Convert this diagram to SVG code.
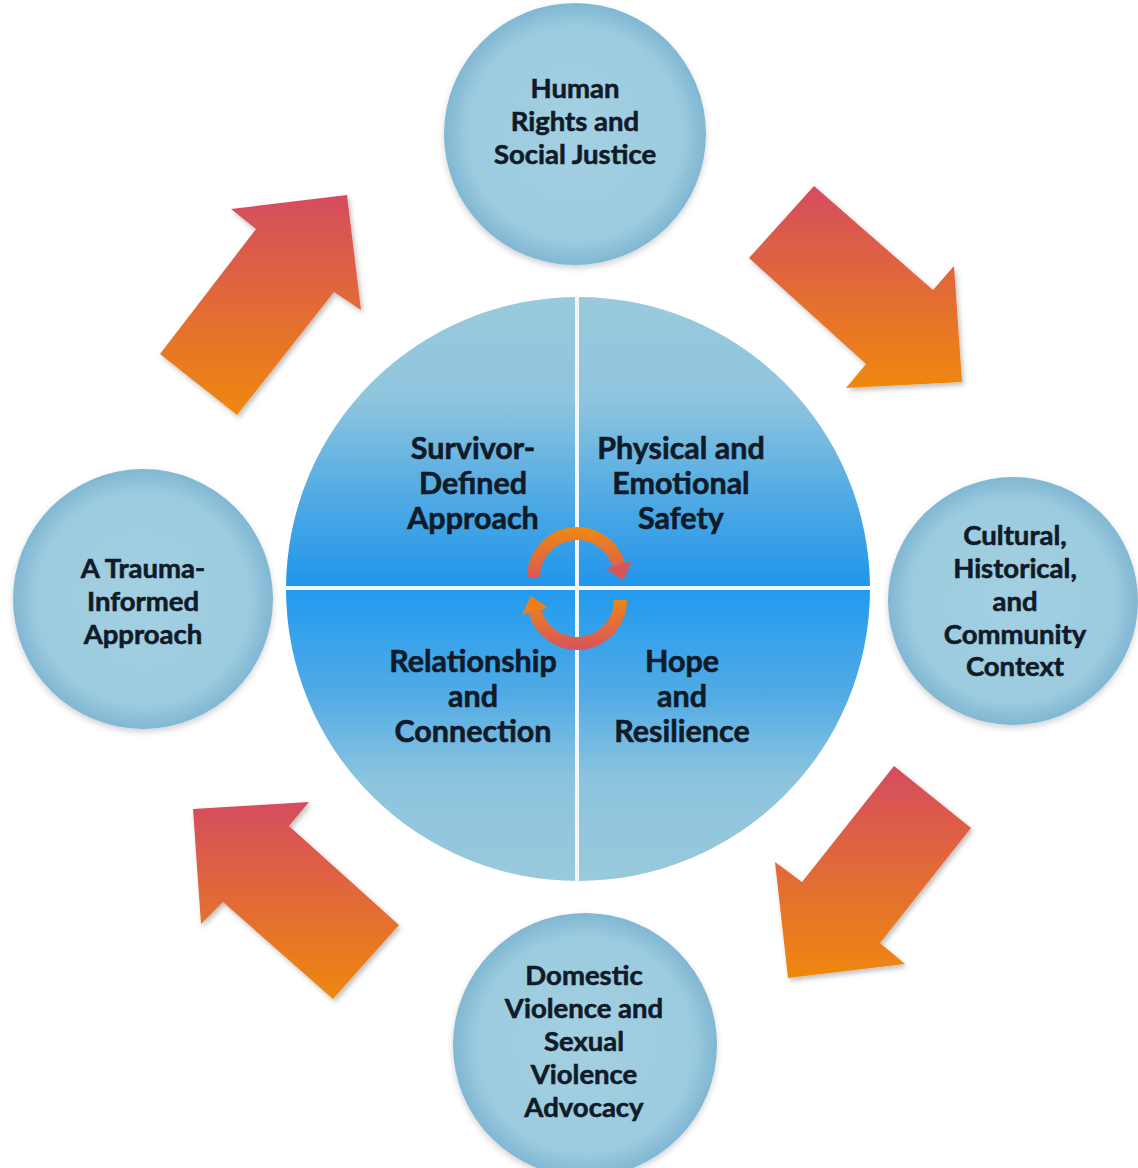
<svg xmlns="http://www.w3.org/2000/svg" width="1138" height="1168" viewBox="0 0 1138 1168">
  <style>
    .lbl { font-family: Lato, "Liberation Sans", sans-serif; font-weight: 700; fill: #101b29; stroke: #101b29; stroke-width: 0.6; text-anchor: middle; }
    .outer { font-size: 27.5px; }
    .inner { font-size: 30.5px; }
    .node { fill: url(#nodeFill); filter: url(#soft); }
    .arrow { fill: url(#arrowFill); filter: url(#shadow); }
    .divider { stroke: #f3f5f6; stroke-width: 4; }
  </style>
  <defs>
    <radialGradient id="nodeFill" cx="0.5" cy="0.5" r="0.5">
      <stop offset="0" stop-color="#a3d0e1"/>
      <stop offset="0.82" stop-color="#9ccbdf"/>
      <stop offset="1" stop-color="#80b7d3"/>
    </radialGradient>
    <linearGradient id="arrowFill" x1="0" y1="0" x2="0" y2="1">
      <stop offset="0" stop-color="#d54c5f"/>
      <stop offset="1" stop-color="#ef880e"/>
    </linearGradient>
    <linearGradient id="topHalf" gradientUnits="userSpaceOnUse" x1="0" y1="297" x2="0" y2="589">
      <stop offset="0" stop-color="#99c9dc"/>
      <stop offset="0.35" stop-color="#8fc5de"/>
      <stop offset="0.7" stop-color="#4ea9e4"/>
      <stop offset="1" stop-color="#1f95eb"/>
    </linearGradient>
    <linearGradient id="botHalf" gradientUnits="userSpaceOnUse" x1="0" y1="589" x2="0" y2="881">
      <stop offset="0" stop-color="#219bef"/>
      <stop offset="0.35" stop-color="#50aae5"/>
      <stop offset="0.65" stop-color="#8cc4de"/>
      <stop offset="1" stop-color="#99c9dc"/>
    </linearGradient>
    <linearGradient id="cycTop" gradientUnits="userSpaceOnUse" x1="0" y1="527" x2="0" y2="582">
      <stop offset="0" stop-color="#ef8a10"/>
      <stop offset="1" stop-color="#d9545a"/>
    </linearGradient>
    <linearGradient id="cycBot" gradientUnits="userSpaceOnUse" x1="0" y1="595" x2="0" y2="648">
      <stop offset="0" stop-color="#ef8a10"/>
      <stop offset="1" stop-color="#d9545a"/>
    </linearGradient>
    <filter id="shadow" x="-20%" y="-20%" width="140%" height="140%">
      <feDropShadow dx="2" dy="3" stdDeviation="2.5" flood-color="#000" flood-opacity="0.25"/>
    </filter>
    <filter id="soft" x="-10%" y="-10%" width="120%" height="125%">
      <feDropShadow dx="0" dy="3" stdDeviation="3" flood-color="#000" flood-opacity="0.18"/>
    </filter>
  </defs>

  <rect width="1138" height="1168" fill="#ffffff"/>

  <g id="connectors">
    <polygon class="arrow" points="160,354 256,229 231,209 347,195 361,310 334,292 237,415"/>
    <polygon class="arrow" points="814,186 933,290 954,266 962,382 846,388 866,364 749,258"/>
    <polygon class="arrow" points="894,766 971,828 880,943 905,964 788,978 775,862 802,882"/>
    <polygon class="arrow" points="193,809 309,802 289,826 399,925 333,999 223,902 201,924"/>
  </g>

  <g id="node-human-rights">
    <circle class="node" cx="575" cy="134" r="131"/>
    <text class="lbl outer" x="575" y="98">Human</text>
    <text class="lbl outer" x="575" y="131">Rights and</text>
    <text class="lbl outer" x="575" y="164">Social Justice</text>
  </g>

  <g id="node-cultural">
    <ellipse class="node" cx="1013" cy="601" rx="125" ry="124"/>
    <text class="lbl outer" x="1015" y="545">Cultural,</text>
    <text class="lbl outer" x="1015" y="578">Historical,</text>
    <text class="lbl outer" x="1015" y="611">and</text>
    <text class="lbl outer" x="1015" y="644">Community</text>
    <text class="lbl outer" x="1015" y="676">Context</text>
  </g>

  <g id="node-advocacy">
    <circle class="node" cx="585" cy="1045" r="132"/>
    <text class="lbl outer" x="584" y="985">Domestic</text>
    <text class="lbl outer" x="584" y="1018">Violence and</text>
    <text class="lbl outer" x="584" y="1051">Sexual</text>
    <text class="lbl outer" x="584" y="1084">Violence</text>
    <text class="lbl outer" x="584" y="1117">Advocacy</text>
  </g>

  <g id="node-trauma-informed">
    <circle class="node" cx="143" cy="599" r="130"/>
    <text class="lbl outer" x="143" y="578">A Trauma-</text>
    <text class="lbl outer" x="143" y="611">Informed</text>
    <text class="lbl outer" x="143" y="644">Approach</text>
  </g>

  <g id="node-center">
    <path d="M 286 589 A 292 292 0 0 1 870 589 Z" fill="url(#topHalf)"/>
    <path d="M 286 589 A 292 292 0 0 0 870 589 Z" fill="url(#botHalf)"/>
    <line class="divider" x1="285" y1="588" x2="871" y2="588"/>
    <line class="divider" x1="577" y1="296" x2="577" y2="882"/>
  </g>

  <g id="node-survivor-defined">
    <text class="lbl inner" x="473" y="459">Survivor-</text>
    <text class="lbl inner" x="473" y="494">Defined</text>
    <text class="lbl inner" x="473" y="529">Approach</text>
  </g>
  <g id="node-safety">
    <text class="lbl inner" x="681" y="459">Physical and</text>
    <text class="lbl inner" x="681" y="494">Emotional</text>
    <text class="lbl inner" x="681" y="529">Safety</text>
  </g>
  <g id="node-relationship">
    <text class="lbl inner" x="473" y="672">Relationship</text>
    <text class="lbl inner" x="473" y="707">and</text>
    <text class="lbl inner" x="473" y="742">Connection</text>
  </g>
  <g id="node-hope">
    <text class="lbl inner" x="682" y="672">Hope</text>
    <text class="lbl inner" x="682" y="707">and</text>
    <text class="lbl inner" x="682" y="742">Resilience</text>
  </g>

  <g id="cycle-arrows">
    <path d="M 533.5 577 A 43.5 43.5 0 0 1 618.8 565" fill="none" stroke="url(#cycTop)" stroke-width="13"/>
    <polygon points="605.8,568.7 631.8,561.3 623.2,580.4" fill="#d9545a"/>
    <path d="M 620.5 600 A 43.5 43.5 0 0 1 535 611.3" fill="none" stroke="url(#cycBot)" stroke-width="13"/>
    <polygon points="548,607.8 521.9,614.8 530.9,595.8" fill="#ec7e1c"/>
  </g>
</svg>
